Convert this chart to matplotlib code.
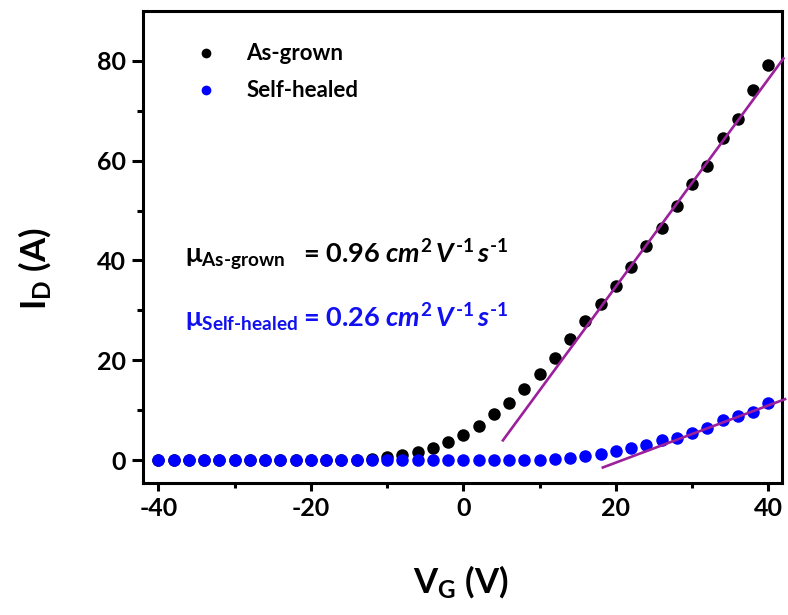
import matplotlib
matplotlib.use("Agg")
import matplotlib.pyplot as plt
from matplotlib.lines import Line2D
import numpy as np

plt.rcParams["font.family"] = ["Lato", "DejaVu Sans"]
plt.rcParams["font.weight"] = "bold"
plt.rcParams["axes.unicode_minus"] = False
plt.rcParams["mathtext.fontset"] = "custom"
plt.rcParams["mathtext.rm"] = "Lato:bold"
plt.rcParams["mathtext.bf"] = "Lato:bold"
plt.rcParams["mathtext.it"] = "Lato:bold:italic"
plt.rcParams["mathtext.sf"] = "Lato:bold"
plt.rcParams["mathtext.fallback"] = "stixsans"

# Gate voltage sweep (V)
vg = list(range(-40, 41, 2))

# Drain current, as-grown device (A)
id_as_grown = [0.0, 0.0, 0.0, 0.0, 0.0, 0.0, 0.0, 0.0, 0.0, 0.0,
               0.0, 0.0, 0.0, 0.1, 0.3, 0.6, 1.0, 1.7, 2.5, 3.7,
               5.0, 6.9, 9.2, 11.4, 14.2, 17.2, 20.4, 24.2, 27.8, 31.2,
               34.9, 38.6, 43.0, 46.6, 51.0, 55.3, 59.0, 64.5, 68.4, 74.2,
               79.2]

# Drain current, self-healed device (A)
id_self_healed = [0.0, 0.0, 0.0, 0.0, 0.0, 0.0, 0.0, 0.0, 0.0, 0.0,
                  0.0, 0.0, 0.0, 0.0, 0.0, 0.0, 0.0, 0.0, 0.0, 0.0,
                  0.0, 0.0, 0.0, 0.0, 0.0, 0.1, 0.25, 0.5, 0.9, 1.25,
                  1.8, 2.5, 3.0, 4.0, 4.4, 5.4, 6.5, 8.0, 8.8, 9.7,
                  11.4]

# Linear fits in the saturation region: slope (A/V), threshold voltage (V), fit range (V)
fit_as_grown = {"slope": 2.08, "vth": 3.3, "range": [5.2, 42.0]}
fit_self_healed = {"slope": 0.573, "vth": 20.9, "range": [18.3, 42.2]}

x_ticks = [-40, -20, 0, 20, 40]
y_ticks = [0, 20, 40, 60, 80]

W, H = 788, 615
fig = plt.figure(figsize=(W / 100, H / 100), dpi=100)
ax = fig.add_axes([143 / W, 1 - 483 / H, (782 - 143) / W, (483 - 11) / H])

fit_color = "#9c1f9c"
for fit in (fit_as_grown, fit_self_healed):
    xv = np.array(fit["range"])
    ax.plot(xv, fit["slope"] * (xv - fit["vth"]), color=fit_color, lw=1.9,
            zorder=3, clip_on=False)

ax.plot(vg, id_as_grown, "o", color="black", ms=9, mew=0, zorder=2,
        label="As-grown")
ax.plot(vg, id_self_healed, "o", color="#0000ff", ms=9, mew=0, zorder=2.5,
        label="Self-healed")

ax.set_xlim(-42, 41.8)
ax.set_ylim(-4.6, 90)
ax.set_xticks(x_ticks)
ax.set_yticks(y_ticks)
ax.set_xticks([-30, -10, 10, 30], minor=True)
ax.set_yticks([10, 30, 50, 70], minor=True)
ax.tick_params(axis="both", which="major", direction="out", width=2.2,
               labelsize=18, pad=4)
ax.tick_params(axis="x", which="major", length=6)
ax.tick_params(axis="y", which="major", length=8)
ax.tick_params(axis="x", which="minor", direction="out", width=2.2, length=3.5)
ax.tick_params(axis="y", which="minor", direction="out", width=2.2, length=4.5)
for lab in ax.get_xticklabels() + ax.get_yticklabels():
    lab.set_fontweight("bold")
for sp in ax.spines.values():
    sp.set_linewidth(2.2)

handles = [
    Line2D([], [], ls="none", marker="o", color="black", ms=7, mew=0),
    Line2D([], [], ls="none", marker="o", color="#0000ff", ms=7, mew=0),
]
ax.legend(handles, ["As-grown", "Self-healed"], loc="upper left",
          bbox_to_anchor=(0.075, 0.95), frameon=False, fontsize=16,
          handlelength=0.6, handletextpad=1.5, labelspacing=0.72,
          borderaxespad=0)

# Field-effect mobility annotations
unit = r"$\mathit{cm^2\,V^{\text{-}1}\,s^{\text{-}1}}$"
ax.text(0.0657, 0.466, r"$\mathrm{\mu}_{\mathrm{As\text{-}grown}}$",
        transform=ax.transAxes, fontsize=19.5, color="black", va="baseline")
ax.text(0.2504, 0.466, "= 0.96 " + unit,
        transform=ax.transAxes, fontsize=19.5, color="black", va="baseline")
ax.text(0.0657, 0.3305, r"$\mathrm{\mu}_{\mathrm{Self\text{-}healed}}$",
        transform=ax.transAxes, fontsize=19.5, color="#1010f0", va="baseline")
ax.text(0.2504, 0.3305, "= 0.26 " + unit,
        transform=ax.transAxes, fontsize=19.5, color="#1010f0", va="baseline")

fig.text(461 / W, 1 - 593 / H, r"V$_\mathrm{G}$ (V)", fontsize=25,
         ha="center", va="baseline", fontweight="bold")
fig.text(35 / W, 1 - 269 / H, r"I$_\mathrm{D}$ (A)", fontsize=25,
         ha="center", va="center", rotation=90, fontweight="bold")

fig.savefig("out.png", dpi=100)
